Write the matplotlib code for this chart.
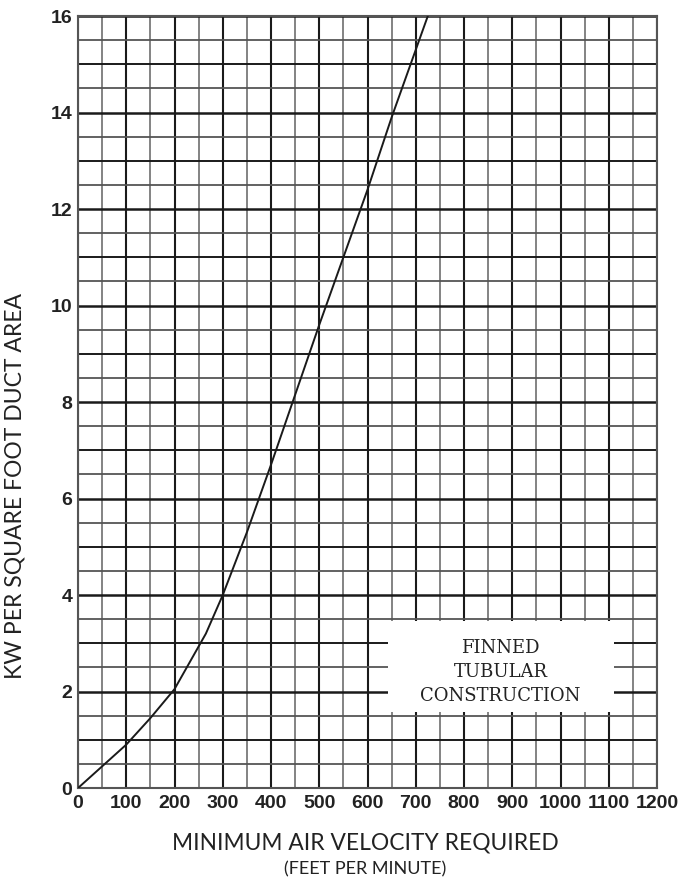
import numpy as np
import matplotlib
matplotlib.use('Agg')
import matplotlib.pyplot as plt
from matplotlib.patches import Rectangle

# curve (fpm, kW per sq ft)
velocity = [0, 50, 100, 150, 200, 265, 300, 350, 400, 450, 500, 550, 600, 650, 700, 725]
kw_per_sqft = [0, 0.45, 0.9, 1.45, 2.05, 3.2, 4.0, 5.3, 6.7, 8.15, 9.6, 11.0, 12.4, 13.9, 15.3, 16.0]

x_ticks = list(range(0, 1300, 100))
y_ticks = list(range(0, 17, 2))
note = "FINNED\nTUBULAR\nCONSTRUCTION"

fig = plt.figure(figsize=(6.79, 8.80), dpi=100)
ax = fig.add_axes([0.1149, 0.1045, 0.8527, 0.8773])

# grid: vertical every 50, horizontal every 0.5
for xv in np.arange(0, 1201, 50):
    if xv % 100 == 0:
        ax.axvline(xv, color='#1a1a1a', lw=1.5, zorder=1)
    else:
        ax.axvline(xv, color='#7a7a7a', lw=1.3, zorder=1)
for yv in np.arange(0, 16.01, 0.5):
    if yv % 2 == 0:
        ax.axhline(yv, color='#1a1a1a', lw=1.8, zorder=1)
    elif yv % 1 == 0:
        ax.axhline(yv, color='#1a1a1a', lw=1.4, zorder=1)
    else:
        ax.axhline(yv, color='#555555', lw=1.3, zorder=1)

# white panel behind the label
ax.add_patch(Rectangle((642, 1.58), 469, 1.88, facecolor='white',
                       edgecolor='none', zorder=2))
ax.text(876, 2.4, note, ha='center', va='center', fontsize=13,
        family='DejaVu Serif', linespacing=1.42, color='#222222', zorder=3)

ax.plot(velocity, kw_per_sqft, color='#1a1a1a', lw=1.4, zorder=4)

ax.set_xlim(0, 1200)
ax.set_ylim(0, 16)
ax.set_xticks(x_ticks)
ax.set_yticks(y_ticks)
ax.set_xticklabels([str(v) for v in x_ticks], fontsize=14, fontweight='bold',
                   family='Liberation Sans', color='#222222')
ax.set_yticklabels([str(v) for v in y_ticks], fontsize=14, fontweight='bold',
                   family='Liberation Sans', color='#222222')
ax.tick_params(axis='x', length=0, pad=5)
ax.tick_params(axis='y', length=0, pad=4)
for s in ax.spines.values():
    s.set_color('#555555')
    s.set_linewidth(1.5)

fig.text(0.538, 1 - 843 / 880, "MINIMUM AIR VELOCITY REQUIRED", ha='center',
         va='center', fontsize=16.4, family='Lato', color='#222222')
fig.text(0.538, 1 - 869 / 880, "(FEET PER MINUTE)", ha='center',
         va='center', fontsize=13, family='Lato', color='#222222')
fig.text(15 / 679, 1 - 486 / 880, "KW PER SQUARE FOOT DUCT AREA", rotation=90,
         ha='center', va='center', fontsize=16.5, family='Lato', color='#222222')

fig.savefig('out.png', dpi=100)
